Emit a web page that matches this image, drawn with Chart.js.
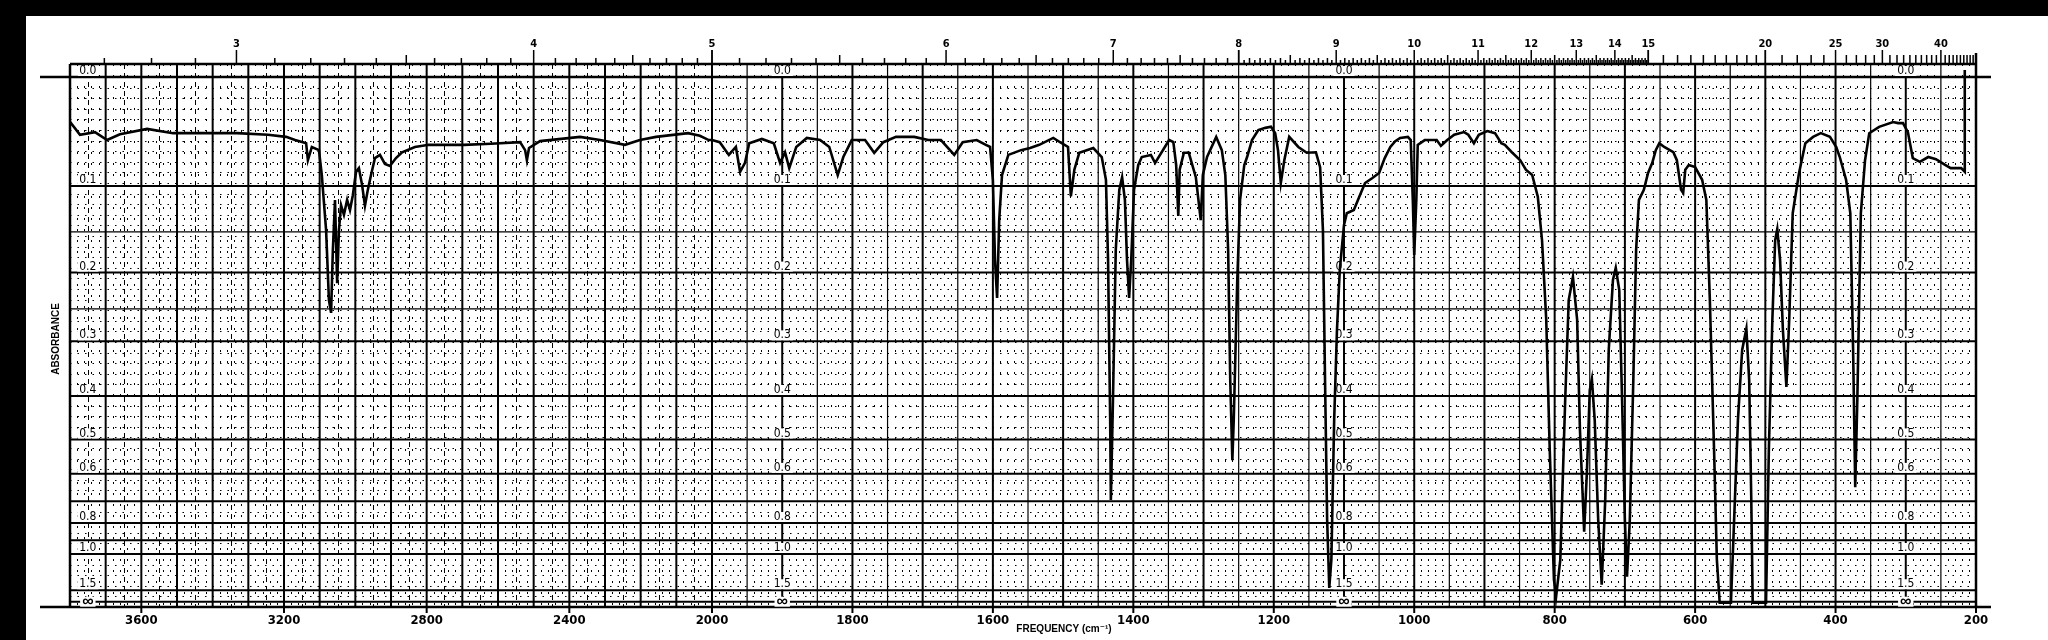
<!DOCTYPE html>
<html>
<head>
<meta charset="utf-8">
<script src="https://cdn.jsdelivr.net/npm/chart.js@4.4.1/dist/chart.umd.min.js"></script>
<style>
html,body{margin:0;padding:0;background:#fff;}
canvas{display:block;}
</style>
</head>
<body>
<canvas id="c" width="2048" height="640"></canvas>
<script>
// ---------------- DATA ----------------
// wavenumber in cm-1, transmittance in percent (chart paper is linear in %T, labelled in absorbance)
const wavenumber = [
3800,3797,3772,3730,3696,3660,3584,3511,3447,3332,3245,3194,3169,3147,3138,3133,3122,3102,3094,3082,
3074,3068,3063,3057,3051,3046,3040,3032,3023,3015,3007,2998,2990,2981,2973,2965,2956,2945,2931,2917,
2903,2886,2869,2833,2794,2695,2620,2538,2524,2519,2513,2482,2370,2314,2244,2202,2157,2067,2034,2009,
2000,1989,1976,1966,1960,1953,1947,1929,1912,1903,1896,1890,1880,1865,1846,1833,1821,1813,1801,1782,
1769,1756,1738,1712,1692,1674,1655,1643,1623,1610,1604,1600,1597,1594,1591,1587,1578,1560,1547,1534,
1514,1502,1493,1489,1484,1477,1457,1445,1439,1436,1433,1432,1429,1425,1420,1416,1412,1409,1406,1403,
1399,1393,1388,1375,1369,1349,1343,1339,1336,1334,1328,1321,1311,1304,1301,1295,1282,1274,1269,1265,
1262,1259,1257,1252,1248,1242,1238,1231,1222,1212,1204,1198,1194,1190,1185,1178,1165,1153,1140,1134,
1130,1127,1124,1121,1118,1114,1110,1106,1100,1096,1086,1076,1070,1060,1050,1042,1034,1027,1020,1009,
1005,1002,1000,997,995,985,968,962,953,943,929,923,915,908,896,885,876,871,861,849,
841,832,824,818,812,807,801,798,792,785,780,774,768,764,758,754,750,747,743,738,
733,728,723,717,713,708,704,700,697,693,688,684,680,673,667,661,656,651,644,631,
626,620,617,614,609,600,590,584,579,573,569,565,549,545,539,533,527,523,520,518,
499,495,490,486,483,479,475,470,466,461,452,443,432,421,408,399,394,385,379,375,
372,369,364,358,352,338,318,311,304,297,293,290,280,268,257,244,236,221,216,216
];
const transmittance = [
90.9,91.3,89.1,89.6,88.1,89.2,90.2,89.4,89.4,89.4,89.1,88.7,88.1,87.7,87.5,84.3,86.8,86.2,81.5,71.1,
57.9,55.5,67.4,76.8,61.1,71.1,75.8,74.0,76.8,74.9,77.7,82.1,82.8,79.6,75.7,78.7,81.5,84.7,85.3,83.6,
83.2,84.7,85.8,86.8,87.2,87.2,87.4,87.7,86.2,84.3,86.6,87.9,88.7,88.1,87.2,88.1,88.7,89.4,88.9,88.1,
88.1,87.7,85.3,86.8,82.1,83.8,87.5,88.3,87.5,83.8,85.8,82.8,86.8,88.5,88.1,86.8,81.5,84.9,88.1,88.1,
85.7,87.7,88.7,88.7,88.1,88.1,85.3,87.7,88.1,87.2,86.8,80.6,65.5,58.3,73.0,81.5,85.3,86.2,86.6,87.2,
88.5,87.5,86.8,77.5,82.5,85.7,86.6,84.9,80.6,65.5,35.3,20.2,39.1,67.4,78.7,81.1,76.8,65.5,58.3,65.5,
78.7,83.4,84.9,85.3,83.8,88.1,87.7,83.4,73.8,82.5,85.7,85.7,81.1,73.0,81.5,84.9,88.7,86.2,81.5,67.4,
42.8,27.7,35.3,61.7,76.8,83.4,84.9,88.1,90.0,90.4,90.6,89.4,86.2,80.0,84.3,88.7,86.8,85.7,85.8,83.0,
71.1,42.8,16.4,3.6,8.9,35.3,52.3,63.6,72.1,74.3,74.9,78.1,80.0,80.9,81.9,84.7,86.8,87.9,88.5,88.7,
88.1,76.8,66.4,76.8,87.2,88.1,88.1,87.0,88.1,89.1,89.6,89.1,87.5,89.1,89.8,89.4,87.5,87.2,85.8,84.3,
82.5,81.5,77.4,69.2,54.2,29.6,5.1,1.9,8.9,39.1,57.9,62.3,54.2,33.4,14.2,25.8,40.9,43.0,35.3,16.4,
4.2,20.2,48.5,61.7,64.0,59.8,39.1,16.4,5.7,16.4,42.8,67.4,76.8,78.7,81.9,83.8,86.2,87.5,86.8,85.8,
84.3,78.7,78.1,82.5,83.4,83.0,80.6,76.8,57.9,29.6,8.9,0.8,0.8,14.5,35.3,48.5,52.5,42.8,20.2,0.8,
0.8,29.6,54.2,69.2,71.3,65.5,52.3,41.5,54.2,74.3,81.9,87.5,88.7,89.4,88.7,86.8,84.9,80.6,74.3,48.5,
22.6,39.1,74.3,84.3,89.4,90.6,91.5,91.3,91.3,89.6,86.8,84.7,84.0,84.9,84.5,83.4,82.8,82.8,82.1,101.3
];
// tick labels
const frequencyTicks = [3600,3200,2800,2400,2000,1800,1600,1400,1200,1000,800,600,400,200];
const micronTicks = [3,4,5,6,7,8,9,10,11,12,13,14,15,20,25,30,40];
const absorbanceTicks = [0.0,0.1,0.2,0.3,0.4,0.5,0.6,0.8,1.0,1.5];
const absorbanceLabels = ['0.0','0.1','0.2','0.3','0.4','0.5','0.6','0.8','1.0','1.5','\u221E'];
const labelColumns = [3750,1900,1100,300]; // cm-1 where the paper prints absorbance labels

// ---------------- piecewise frequency axis (scale changes at 2000 cm-1) ----------------
const U_LEFT = 0.5, U_RIGHT = 0.5 * 1264 / 642;
function toU(nu){ return nu >= 2000 ? (3800 - nu) * U_LEFT : 900 + (2000 - nu) * U_RIGHT; }
function fromU(u){ return u <= 900 ? 3800 - u / U_LEFT : 2000 - (u - 900) / U_RIGHT; }
const U_MAX = toU(200);
const T_MAX = 102.45;

const points = wavenumber.map((nu,i)=>({x: toU(nu), y: transmittance[i]}));

const NARROW = "'Liberation Sans Narrow','DejaVu Sans Condensed','Liberation Sans',sans-serif";
const WIDE = "'Liberation Sans','DejaVu Sans',sans-serif";

function line(ctx,x1,y1,x2,y2){ ctx.beginPath(); ctx.moveTo(x1,y1); ctx.lineTo(x2,y2); ctx.stroke(); }

const paper = {
  id: 'paper',
  beforeDatasetsDraw(chart){
    const ctx = chart.ctx;
    const {left,right,top,bottom} = chart.chartArea;
    const xs = chart.scales.x, ys = chart.scales.y;
    const X = nu => xs.getPixelForValue(toU(nu));
    const Y = t => ys.getPixelForValue(t);
    const YA = a => Y(100 * Math.pow(10, -a));
    const snap = v => Math.round(v) + 0.5;
    ctx.save();
    ctx.strokeStyle = '#000';
    // dotted rows (every 2 %T)
    ctx.lineWidth = 1;
    ctx.setLineDash([1.5,6]);
    for (let t = 2; t < 100; t += 2){ const y = snap(Y(t)); line(ctx,left,y,right,y); }
    // dotted columns
    ctx.setLineDash([2,9]);
    for (let nu = 3780; nu > 2000; nu -= 20){ if (nu % 50) { const x = snap(X(nu)); line(ctx,x,top,x,bottom);} }
    for (let nu = 1990; nu > 200; nu -= 10){ if (nu % 50) { const x = snap(X(nu)); line(ctx,x,top,x,bottom);} }
    // dashed 50s on left section
    ctx.setLineDash([5,4]);
    for (let nu = 3750; nu > 2000; nu -= 100){ const x = snap(X(nu)); line(ctx,x,top,x,bottom); }
    ctx.setLineDash([]);
    // thin solid 50s right section
    ctx.lineWidth = 1.2;
    for (let nu = 1950; nu > 200; nu -= 100){ const x = X(nu); line(ctx,x,top,x,bottom); }
    // thick 100s
    ctx.lineWidth = 2;
    for (let nu = 3700; nu > 200; nu -= 100){ const x = X(nu); line(ctx,x,top,x,bottom); }
    // horizontal absorbance lines
    [0.15,0.25].forEach(a=>{ ctx.lineWidth = 1.2; const y = YA(a); line(ctx,left,y,right,y); });
    ctx.lineWidth = 2;
    [0.1,0.2,0.3,0.4,0.5,0.6,0.7,0.8,0.9,1.0,1.5,2.0].forEach(a=>{ const y = YA(a); line(ctx,left,y,right,y); });
    // 0.0 line and base line, extended beyond frame
    ctx.lineWidth = 2.5;
    line(ctx,40,YA(0),right+15,YA(0));
    line(ctx,40,Y(0),right+15,Y(0));
    // frame
    ctx.lineWidth = 2.5;
    line(ctx,left,top,right,top);
    line(ctx,left,top,left,bottom);
    line(ctx,right,top-11,right,bottom);
    // bottom tick marks
    ctx.lineWidth = 2;
    frequencyTicks.forEach(nu=>{ const x = X(nu); line(ctx,x,bottom,x,bottom+6); });
    // top micron ticks
    const segs = [[2.7,5,0.1],[5,8,0.1],[8,15,0.05],[15,20,0.5],[20,50,1]];
    ctx.lineWidth = 1.5;
    segs.forEach(([a,b,s])=>{
      for (let k = 0; a + k*s < b + 1e-9; k++){
        const lam = +(a + k*s).toFixed(2);
        const nu = 10000 / lam;
        if (nu > 3800 || nu < 200) continue;
        const x = X(nu);
        let len = 6;
        if (Math.abs(lam - Math.round(lam)) < 1e-6) len = micronTicks.includes(lam) ? 14 : 9;
        else if (Math.abs(lam*2 - Math.round(lam*2)) < 1e-6) len = 9;
        else if (s === 0.05 && Math.abs(lam*10 - Math.round(lam*10)) > 1e-6) len = 4;
        line(ctx,x,top,x,top-len);
      }
    });
    // absorbance labels printed on the paper
    ctx.textAlign = 'center';
    ctx.textBaseline = 'middle';
    labelColumns.forEach(col=>{
      const x = X(col);
      absorbanceLabels.forEach((lab,i)=>{
        const inf = lab === '\u221E';
        const a = inf ? 2.0 : absorbanceTicks[i];
        const y = YA(a);
        ctx.font = inf ? 'bold 16px ' + WIDE : '12px ' + NARROW;
        const w = ctx.measureText(lab).width + 4;
        const cy = inf ? y : y - 6;
        ctx.fillStyle = '#fff';
        ctx.fillRect(x - w/2, cy - 5, w, 10);
        ctx.fillStyle = '#000';
        ctx.fillText(lab, x, cy);
      });
    });
    ctx.restore();
  },
  afterDraw(chart){
    const ctx = chart.ctx;
    ctx.save();
    // scanner border
    ctx.fillStyle = '#000';
    ctx.fillRect(0,0,chart.width,16);
    ctx.fillRect(0,0,26,chart.height);
    // axis titles
    ctx.fillStyle = '#000';
    ctx.font = 'bold 10px ' + WIDE;
    ctx.textAlign = 'center';
    ctx.textBaseline = 'middle';
    ctx.fillText('FREQUENCY (cm\u207B\u00B9)', 1064, 629);
    ctx.translate(56, 339);
    ctx.rotate(-Math.PI/2);
    ctx.fillText('ABSORBANCE', 0, 0);
    ctx.restore();
  }
};

new Chart(document.getElementById('c'), {
  type: 'line',
  data: { datasets: [{
    data: points,
    borderColor: '#000',
    borderWidth: 2.6,
    pointRadius: 0,
    tension: 0,
    fill: false
  }]},
  options: {
    responsive: false,
    animation: false,
    devicePixelRatio: 1,
    layout: { padding: { left: 70, right: 72, top: 0, bottom: 0 } },
    plugins: { legend: { display: false }, tooltip: { enabled: false } },
    scales: {
      x: {
        type: 'linear', position: 'bottom', min: 0, max: U_MAX,
        afterFit: s => { s.height = 33; },
        afterBuildTicks: s => { s.ticks = frequencyTicks.map(nu => ({value: toU(nu)})); },
        grid: { display: false, drawTicks: false },
        border: { display: false },
        ticks: {
          autoSkip: false, maxRotation: 0, padding: 6, color: '#000',
          font: { family: NARROW, size: 13, weight: 'bold' },
          callback: v => String(Math.round(fromU(v) / 10) * 10)
        }
      },
      x2: {
        type: 'linear', position: 'top', min: 0, max: U_MAX,
        afterFit: s => { s.height = 64; },
        afterBuildTicks: s => { s.ticks = micronTicks.map(l => ({value: toU(10000 / l)})); },
        grid: { display: false, drawTicks: false },
        border: { display: false },
        ticks: {
          autoSkip: false, maxRotation: 0, padding: 13, color: '#000',
          font: { family: NARROW, size: 11, weight: 'bold' },
          callback: v => String(Math.round(10000 / fromU(v)))
        }
      },
      y: { type: 'linear', display: false, min: 0, max: T_MAX }
    }
  },
  plugins: [paper]
});
</script>
</body>
</html>
